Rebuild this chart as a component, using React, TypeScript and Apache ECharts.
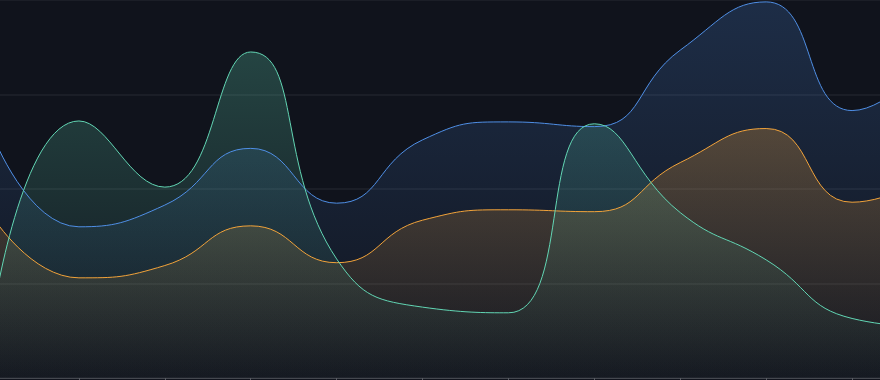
import React, { useEffect, useRef } from "react";
import * as echarts from "echarts";

const categories = ["P0", "P1", "P2", "P3", "P4", "P5", "P6", "P7", "P8", "P9", "P10", "P11"];
// values on a 0-400 scale (read from pixel heights)
const blueValues = [256, 160, 183, 243, 185, 252, 271, 266, 347, 398, 283, 345];
const orangeValues = [170, 106, 119, 161, 122, 167, 178, 176, 228, 264, 186, 218];
const tealValues = [68, 272, 202, 345, 126, 75, 69, 269, 175, 125, 63, 53];
const yTicks = [0, 100, 200, 300, 400];

const colors = ["#4f8fe6", "#f2a33a", "#62d6b4"];

function hexToRgba(hex: string, a: number) {
  const n = parseInt(hex.slice(1), 16);
  return `rgba(${(n >> 16) & 255},${(n >> 8) & 255},${n & 255},${a})`;
}

export default function App() {
  const ref = useRef<HTMLDivElement>(null);
  useEffect(() => {
    if (!ref.current) return;
    const chart = echarts.init(ref.current, undefined, { renderer: "svg" });
    const mk = (name: string, data: number[], color: string, topA: number) => ({
      name,
      type: "line",
      smooth: true,
      symbol: "none",
      data,
      lineStyle: { color, width: 1 },
      areaStyle: {
        color: new echarts.graphic.LinearGradient(0, 0, 0, 1, [
          { offset: 0, color: hexToRgba(color, topA) },
          { offset: 1, color: hexToRgba(color, 0.02) },
        ]),
      },
    });
    chart.setOption({
      animation: false,
      backgroundColor: "#10131c",
      grid: { left: 0, right: 0, top: 0, bottom: 2 },
      xAxis: {
        type: "category",
        data: categories,
        boundaryGap: false,
        axisLine: { lineStyle: { color: "#45484f" } },
        axisTick: { show: true, length: 4, lineStyle: { color: "#5a5d64" } },
        axisLabel: { show: false },
      },
      yAxis: {
        type: "value",
        min: yTicks[0],
        max: yTicks[yTicks.length - 1],
        interval: 100,
        axisLabel: { show: false },
        splitLine: { lineStyle: { color: "#1b1e27", width: 2 } },
      },
      series: [
        mk("Blue", blueValues, colors[0], 0.3),
        mk("Orange", orangeValues, colors[1], 0.38),
        mk("Teal", tealValues, colors[2], 0.36),
      ],
    });
    return () => chart.dispose();
  }, []);
  return (
    <div
      style={{
        position: "fixed",
        left: 0,
        top: 0,
        width: 880,
        height: 380,
        overflow: "hidden",
        background: "#10131c",
      }}
    >
      <div
        ref={ref}
        style={{ position: "absolute", left: -7, top: 0, width: 945, height: 380 }}
      />
    </div>
  );
}
